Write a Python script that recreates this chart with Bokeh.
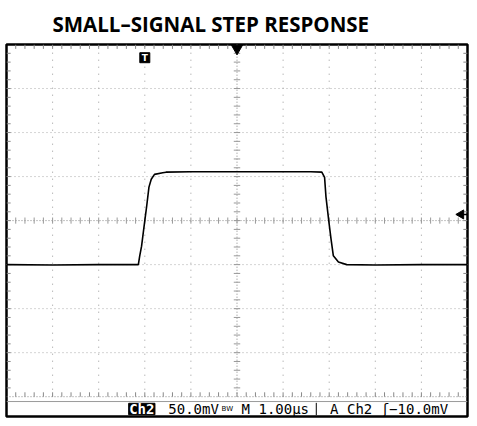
import numpy as np
from bokeh.plotting import figure
from bokeh.models import Range1d
from bokeh.core.properties import value
from bokeh.embed import file_html
from bokeh.resources import INLINE

# ---- data ----
title_text = "SMALL\u2013SIGNAL STEP RESPONSE"
time_us = [-5.0, -4.0, -3.0, -2.3, -2.14, -2.11, -2.07, -2.0, -1.96, -1.91, -1.86,
           -1.79, -1.61, -1.54, -1.0, 0.0, 1.0, 1.6, 1.84, 1.90, 1.93, 1.99, 2.04,
           2.09, 2.2, 2.38, 3.0, 4.0, 5.0]
volt_mV = [-50.0, -50.5, -50.0, -50.0, -50.0, -40.0, -29.0, 0.0, 16.0, 38.0, 47.0,
           52.5, 54.4, 55.0, 55.5, 55.5, 55.5, 55.5, 55.0, 49.0, 27.0, 0.0, -21.0,
           -40.0, -47.0, -50.0, -50.5, -50.0, -50.0]
grid_x = [-4, -3, -2, -1, 1, 2, 3, 4]
grid_y = [-150, -100, -50, 50, 100, 150]
status_ch = "Ch2"
status_scale = "50.0mV"
status_time = "M 1.00\u00b5s"
status_trig = "A Ch2 \u0283\u221210.0mV"
trigger_pos_us = -2.0
ref_level_mV = 7.0

X0, X1 = -5.0, 5.0
Y0, Y1 = -222.5, 200.0
GB = -200.0  # graticule bottom

p = figure(width=469, height=418, x_range=Range1d(X0, X1), y_range=Range1d(Y0, Y1),
           output_backend="svg", toolbar_location=None,
           x_axis_type=None, y_axis_type=None,
           min_border_left=6, min_border_right=2, min_border_top=40, min_border_bottom=2,
           title=title_text)
p.title.align = "left"
p.title.offset = 46
p.title.standoff = 14
p.title.text_font = "Open Sans"
p.title.text_font_size = "20.5px"
p.title.text_font_style = "bold"
p.title.text_color = "black"

p.outline_line_color = "black"
p.outline_line_width = 2.5
p.background_fill_color = "white"
p.border_fill_color = "white"
p.xgrid.visible = False
p.ygrid.visible = False

# graticule
p.segment(x0=grid_x, y0=GB, x1=grid_x, y1=Y1, line_color="#999999", line_width=1, line_dash="1 6")
p.segment(x0=X0, y0=grid_y, x1=X1, y1=grid_y, line_color="#aaaaaa", line_width=1, line_dash="1 3")
# center cross
p.segment(x0=[0, X0], y0=[GB, 0], x1=[0, X1], y1=[Y1, 0], line_color="#888888", line_width=1, line_dash="1 2")
mx = np.arange(-4.8, 4.81, 0.2)
my = np.arange(-190, 191, 10)
p.segment(x0=mx, y0=-3.5, x1=mx, y1=3.5, line_color="#999999", line_width=1)
p.segment(x0=-0.07, y0=my, x1=0.07, y1=my, line_color="#999999", line_width=1)
# edge ticks
p.segment(x0=mx, y0=Y1, x1=mx, y1=Y1 - 5, line_color="#888888", line_width=1)
p.segment(x0=mx, y0=GB, x1=mx, y1=GB + 5, line_color="#888888", line_width=1)
p.segment(x0=X0, y0=my, x1=X0 + 0.09, y1=my, line_color="#888888", line_width=1)
p.segment(x0=X1, y0=my, x1=X1 - 0.09, y1=my, line_color="#888888", line_width=1)
# graticule bottom + status separator
p.segment(x0=X0, y0=GB, x1=X1, y1=GB, line_color="#888888", line_width=1, line_dash="1 2")
p.segment(x0=X0, y0=GB - 5.5, x1=X1, y1=GB - 5.5, line_color="#9a9a9a", line_width=1)

# trace
p.line(time_us, volt_mV, line_color="black", line_width=1.6)

# markers
p.scatter(x=[0], y=[Y1 - 4.5], marker="inverted_triangle", size=11, color="black")
p.scatter(x=[trigger_pos_us], y=[185], marker="square", size=10, color="black")
p.text(x=[trigger_pos_us], y=[185], text=["T"], text_color="white", text_font=value("DejaVu Sans"),
       text_font_size="9px", text_font_style="bold", text_align="center", text_baseline="middle")
p.scatter(x=[4.86], y=[ref_level_mV], marker="triangle", angle=np.pi / 2, size=9, color="black")
p.segment(x0=4.88, y0=ref_level_mV, x1=X1, y1=ref_level_mV, line_color="black", line_width=1.5)

# status bar
SY = -213.5
p.quad(left=-2.35, right=-1.78, top=-207.5, bottom=-220.5, color="black")
p.text(x=[-2.065], y=[SY], text=[status_ch], text_color="white", text_font=value("DejaVu Sans Mono"),
       text_font_size="14px", text_font_style="bold", text_align="center", text_baseline="middle")
p.text(x=[-1.49, 0.1, 2.02], y=[SY] * 3, text=[status_scale, status_time, status_trig],
       text_color="black", text_font=value("DejaVu Sans Mono"), text_font_size="14px",
       text_align="left", text_baseline="middle")
p.text(x=[-0.21], y=[SY - 1], text=["BW"], text_color="black", text_font=value("DejaVu Sans"),
       text_font_size="7px", text_align="center", text_baseline="middle")
p.segment(x0=1.72, y0=-207, x1=1.72, y1=-221, line_color="black", line_width=1)

open("out.html", "w").write(file_html(p, INLINE))
